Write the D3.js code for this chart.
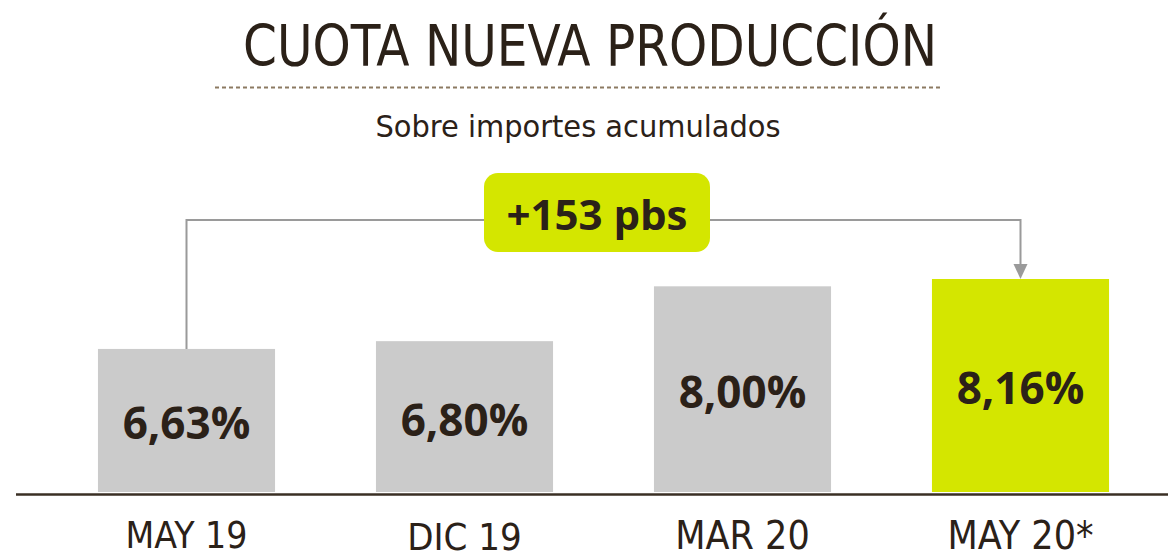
<!DOCTYPE html>
<html><head><meta charset="utf-8">
<script src="https://cdn.jsdelivr.net/npm/d3@7"></script>
<style>html,body{margin:0;padding:0;background:#fff;}svg{display:block;}</style>
</head><body>
<svg id="chart" width="1168" height="560"></svg>
<script>
const categories = ["MAY 19", "DIC 19", "MAR 20", "MAY 20*"];
const values = [6.63, 6.80, 8.00, 8.16];
const valueLabels = ["6,63%", "6,80%", "8,00%", "8,16%"];
const titleText = "CUOTA NUEVA PRODUCCIÓN";
const subtitleText = "Sobre importes acumulados";
const deltaLabel = "+153 pbs";

const svg = d3.select("#chart");
const dark = "#2b2118";
const green = "#d4e600";
const grey = "#cbcbcb";
const condensed = "'DejaVu Sans Condensed', 'DejaVu Sans', sans-serif";
const boldFont = "'Open Sans', sans-serif";

const x = d3.scaleBand().domain(categories).range([47.5, 1159.5]).paddingInner(0.363).paddingOuter(0.1815);
const y = d3.scaleLinear().domain([3.5, 9]).range([492, 240.6]);

// title
svg.append("text").attr("x", 590).attr("y", 66).attr("text-anchor", "middle")
  .attr("font-family", condensed).attr("font-size", 57).attr("fill", dark)
  .attr("textLength", 694).attr("lengthAdjust", "spacingAndGlyphs").text(titleText);
svg.append("line").attr("x1", 215).attr("x2", 943).attr("y1", 87.5).attr("y2", 87.5)
  .attr("stroke", "#8c7a62").attr("stroke-width", 2).attr("stroke-dasharray", "4,3");
svg.append("text").attr("x", 578).attr("y", 137).attr("text-anchor", "middle")
  .attr("font-family", condensed).attr("font-size", 31).attr("fill", dark)
  .attr("textLength", 405).attr("lengthAdjust", "spacingAndGlyphs").text(subtitleText);

// bars
const last = categories.length - 1;
svg.selectAll("rect.bar").data(categories).join("rect").attr("class", "bar")
  .attr("x", d => x(d)).attr("width", x.bandwidth())
  .attr("y", (d, i) => y(values[i])).attr("height", (d, i) => y.range()[0] - y(values[i]))
  .attr("fill", (d, i) => i === last ? green : grey);

// value labels
svg.selectAll("text.val").data(categories).join("text").attr("class", "val")
  .attr("x", d => x(d) + x.bandwidth() / 2)
  .attr("y", (d, i) => (y(values[i]) + y.range()[0]) / 2 + 19)
  .attr("text-anchor", "middle").attr("font-family", boldFont).attr("font-weight", 700)
  .attr("font-size", 44).attr("fill", dark).text((d, i) => valueLabels[i]);

// axis baseline
svg.append("line").attr("x1", 16).attr("x2", 1168).attr("y1", 494.5).attr("y2", 494.5)
  .attr("stroke", "#3a2f24").attr("stroke-width", 2.5);

// category labels
const labelY = [548, 550, 549, 549];
const labelSize = [37, 38, 39, 39];
svg.selectAll("text.cat").data(categories).join("text").attr("class", "cat")
  .attr("x", d => x(d) + x.bandwidth() / 2).attr("y", (d, i) => labelY[i])
  .attr("text-anchor", "middle").attr("font-family", condensed).attr("font-weight", 300)
  .attr("font-size", (d, i) => labelSize[i]).attr("fill", dark).text(d => d);

// connector
const x0 = x(categories[0]) + x.bandwidth() / 2;
const x1 = x(categories[last]) + x.bandwidth() / 2;
const yTop = 220;
const yEnd = y(values[last]);
svg.append("path")
  .attr("d", `M${x0},${y(values[0])}V${yTop}H${x1}V${yEnd - 14}`)
  .attr("fill", "none").attr("stroke", "#9a9a9a").attr("stroke-width", 2);
svg.append("path")
  .attr("d", `M${x1 - 7},${yEnd - 15}L${x1 + 7},${yEnd - 15}L${x1},${yEnd}Z`)
  .attr("fill", "#9a9a9a");

// delta badge
svg.append("rect").attr("x", 484).attr("y", 173).attr("width", 226).attr("height", 79)
  .attr("rx", 14).attr("fill", green);
svg.append("text").attr("x", 597).attr("y", 230).attr("text-anchor", "middle")
  .attr("font-family", boldFont).attr("font-weight", 700).attr("font-size", 42)
  .attr("fill", dark).text(deltaLabel);
</script>
</body></html>
